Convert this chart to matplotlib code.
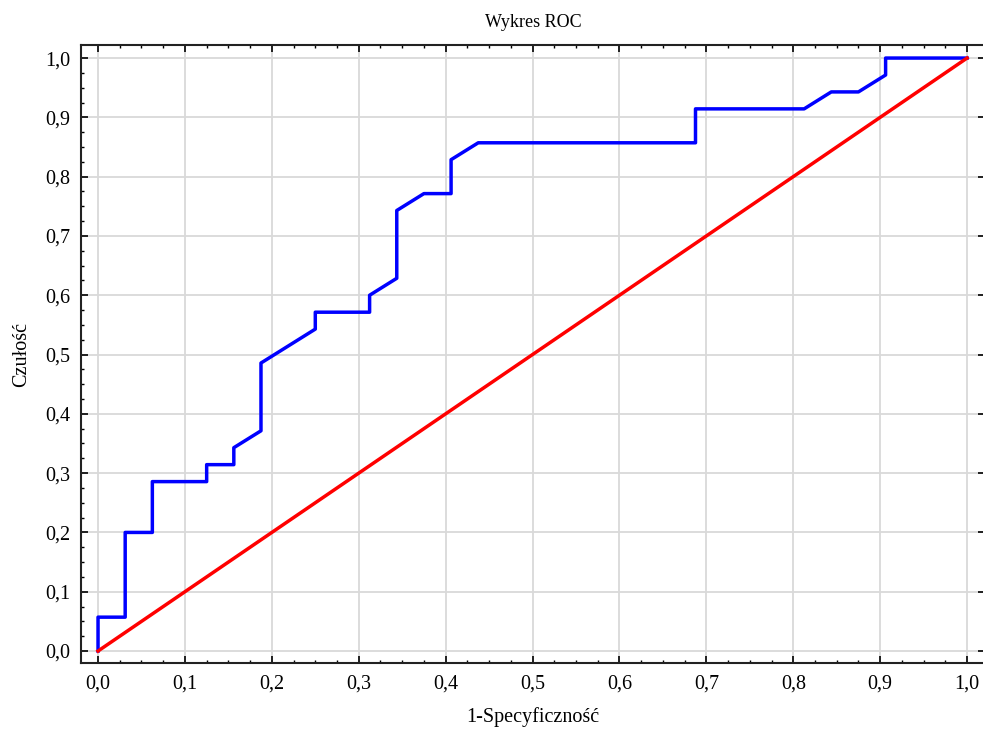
import matplotlib
matplotlib.use('Agg')
import matplotlib.pyplot as plt
from matplotlib.ticker import FuncFormatter, MultipleLocator

plt.rcParams['font.family'] = ['Liberation Serif', 'DejaVu Serif']

# ROC curve points (1 - specificity, sensitivity)
fpr = [0.0, 0.0, 0.03125, 0.03125, 0.0625, 0.0625, 0.125, 0.125, 0.15625, 0.15625,
       0.1875, 0.1875, 0.25, 0.25, 0.3125, 0.3125, 0.34375, 0.34375, 0.375, 0.40625,
       0.40625, 0.4375, 0.6875, 0.6875, 0.8125, 0.84375, 0.875, 0.90625, 0.90625, 1.0]
tpr = [0.0, 0.0571, 0.0571, 0.2, 0.2, 0.2857, 0.2857, 0.3143, 0.3143, 0.3429,
       0.3714, 0.4857, 0.5429, 0.5714, 0.5714, 0.6, 0.6286, 0.7429, 0.7714, 0.7714,
       0.8286, 0.8571, 0.8571, 0.9143, 0.9143, 0.9429, 0.9429, 0.9714, 1.0, 1.0]
diag = [0.0, 1.0]

fig = plt.figure(figsize=(9.83, 7.33), dpi=100)
ax = fig.add_axes([0.0824, 0.0955, 0.9197, 0.8431])

ax.plot(fpr, tpr, color='#0000ff', lw=2.5, zorder=3)
ax.plot(diag, diag, color='#ff0000', lw=2.5, zorder=3)

ax.set_xlim(-0.0196, 1.0207)
ax.set_ylim(-0.0202, 1.022)

fmt = FuncFormatter(lambda v, p: f"{v:.1f}".replace('.', ','))
for axis in (ax.xaxis, ax.yaxis):
    axis.set_major_locator(MultipleLocator(0.1))
    axis.set_minor_locator(MultipleLocator(0.025))
    axis.set_major_formatter(fmt)

ax.tick_params(which='both', direction='in', top=True, right=True, labelsize=14.5, pad=8)
ax.tick_params(which='major', length=5, width=1.2)
ax.tick_params(which='minor', length=2.5, width=1, right=False)
ax.grid(True, which='major', color='#d9d9d9', lw=1.3, zorder=0)
for s in ax.spines.values():
    s.set_linewidth(1.5)
    s.set_color('#222222')

ax.set_title('Wykres ROC', fontsize=13, pad=13)
ax.set_xlabel('1-Specyficzność', fontsize=14.5, labelpad=10)
ax.set_ylabel('Czułość', fontsize=14.5, labelpad=10)

fig.savefig('out.png', dpi=100)
